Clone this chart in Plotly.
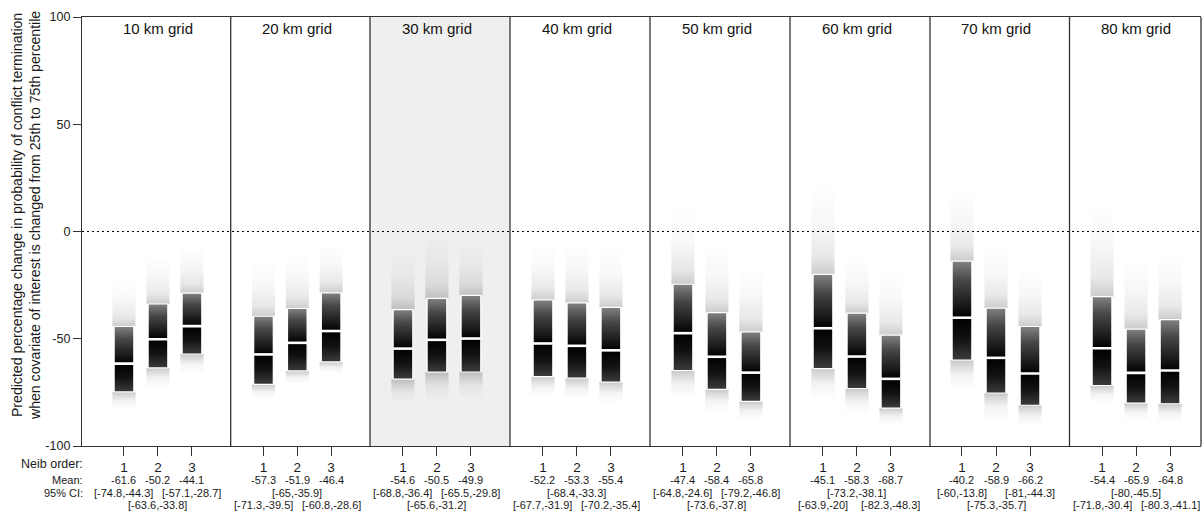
import plotly.graph_objects as go

# ---------------- data ----------------
panels = ["10 km grid", "20 km grid", "30 km grid", "40 km grid",
          "50 km grid", "60 km grid", "70 km grid", "80 km grid"]
neib_order = [1, 2, 3]

means = [
    [-61.6, -50.2, -44.1],
    [-57.3, -51.9, -46.4],
    [-54.6, -50.5, -49.9],
    [-52.2, -53.3, -55.4],
    [-47.4, -58.4, -65.8],
    [-45.1, -58.3, -68.7],
    [-40.2, -58.9, -66.2],
    [-54.4, -65.9, -64.8],
]
ci_low = [
    [-74.8, -63.6, -57.1],
    [-71.3, -65.0, -60.8],
    [-68.8, -65.6, -65.5],
    [-67.7, -68.4, -70.2],
    [-64.8, -73.6, -79.2],
    [-63.9, -73.2, -82.3],
    [-60.0, -75.3, -81.0],
    [-71.8, -80.0, -80.3],
]
ci_high = [
    [-44.3, -33.8, -28.7],
    [-39.5, -35.9, -28.6],
    [-36.4, -31.2, -29.8],
    [-31.9, -33.3, -35.4],
    [-24.6, -37.8, -46.8],
    [-20.0, -38.1, -48.3],
    [-13.8, -35.7, -44.3],
    [-30.4, -45.5, -41.1],
]
# approximate extent of the simulated-draw clouds
cloud_top = [
    [-22, -11, -6],
    [-14, -10, -5],
    [-8, 1, -4],
    [-6, -5, -8],
    [11, -6, -16],
    [23, -12, -19],
    [20, -7, -17],
    [13, -12, -10],
]
cloud_bottom = [
    [-83, -73, -66],
    [-78, -71, -66],
    [-80, -79, -78],
    [-77, -78, -80],
    [-78, -84, -88],
    [-78, -85, -90],
    [-74, -88, -91],
    [-80, -88, -89],
]
y_ticks = [-100, -50, 0, 50, 100]
highlight_panel = 2

# ---------------- layout geometry ----------------
W, H = 1202, 513
ML, MR, MT, MB = 82, 1, 17, 67
plot_w = W - ML - MR
plot_h = H - MT - MB
div_px = [82, 230.7, 370, 510, 650, 790, 930, 1069.5, 1201]
domains = [((div_px[k] - ML) / plot_w, (div_px[k + 1] - ML) / plot_w) for k in range(8)]
x_ranges = [[-0.235, 4.14], [0.03, 4.15], [0.03, 4.15], [0.03, 4.15],
            [0.03, 4.15], [0.03, 4.15], [0.06, 4.16], [0.044, 3.91]]


def ypaper(px):
    return (H - MB - px) / plot_h


FONT = "Liberation Sans, Arial, Helvetica, sans-serif"
BOX_HW = 0.29
CLOUD_HW = 0.34

fig = go.Figure()


def xname(k):
    return "x" if k == 0 else f"x{k + 1}"


for k in range(8):
    xa = xname(k)
    mx, my = [], []
    for j, xv in enumerate(neib_order):
        lo, hi, m = ci_low[k][j], ci_high[k][j], means[k][j]
        ct, cb = cloud_top[k][j], cloud_bottom[k][j]
        xl, xr = xv - CLOUD_HW, xv + CLOUD_HW
        # upper cloud
        fig.add_trace(go.Scatter(
            x=[xl, xr, xr, xl, xl], y=[hi, hi, ct, ct, hi],
            xaxis=xa, yaxis="y", mode="lines", fill="toself",
            line=dict(width=0, color="rgba(0,0,0,0)"),
            fillgradient=dict(type="vertical", colorscale=[
                [0, "rgba(0,0,0,0.20)"], [0.2, "rgba(0,0,0,0.09)"],
                [0.55, "rgba(0,0,0,0.03)"], [1, "rgba(0,0,0,0)"]]),
            hoverinfo="skip", showlegend=False))
        # lower cloud
        fig.add_trace(go.Scatter(
            x=[xl, xr, xr, xl, xl], y=[cb, cb, lo, lo, cb],
            xaxis=xa, yaxis="y", mode="lines", fill="toself",
            line=dict(width=0, color="rgba(0,0,0,0)"),
            fillgradient=dict(type="vertical", colorscale=[
                [0, "rgba(0,0,0,0)"], [0.5, "rgba(0,0,0,0.05)"],
                [0.85, "rgba(0,0,0,0.16)"], [1, "rgba(0,0,0,0.22)"]]),
            hoverinfo="skip", showlegend=False))
        # CI box
        p = (m - lo) / (hi - lo)
        bl, br = xv - BOX_HW, xv + BOX_HW
        fig.add_trace(go.Scatter(
            x=[bl, br, br, bl, bl], y=[lo, lo, hi, hi, lo],
            xaxis=xa, yaxis="y", mode="lines", fill="toself",
            line=dict(width=1.2, color="white"),
            fillgradient=dict(type="vertical", colorscale=[
                [0, "#3c3c3c"], [p * 0.5, "#121212"], [p, "#000000"],
                [p + (1 - p) * 0.25, "#1c1c1c"], [p + (1 - p) * 0.65, "#464646"],
                [1, "#828282"]]),
            hoverinfo="skip", showlegend=False))
        mx += [bl, br, None]
        my += [m, m, None]
    fig.add_trace(go.Scatter(x=mx, y=my, xaxis=xa, yaxis="y", mode="lines",
                             line=dict(width=2.6, color="white"),
                             hoverinfo="skip", showlegend=False))

layout = dict(
    width=W, height=H,
    margin=dict(l=ML, r=MR, t=MT, b=MB),
    paper_bgcolor="white", plot_bgcolor="white",
    font=dict(family=FONT, color="#1a1a1a", size=12),
    yaxis=dict(range=[-100, 100], domain=[0, 1], anchor="x",
               tickvals=y_ticks, ticktext=[str(v) for v in y_ticks],
               ticks="outside", ticklen=8, tickwidth=1.2, tickcolor="#333",
               showline=True, linecolor="#333", linewidth=1.3,
               showgrid=False, zeroline=False,
               tickfont=dict(size=12.5, family=FONT, color="#1a1a1a")),
)
for k in range(8):
    key = "xaxis" if k == 0 else f"xaxis{k + 1}"
    layout[key] = dict(domain=list(domains[k]), range=x_ranges[k], anchor="y",
                       tickvals=neib_order, ticktext=[str(v) for v in neib_order],
                       ticks="outside", ticklen=9, tickwidth=1.2, tickcolor="#333",
                       showline=True, mirror=True, linecolor="#333", linewidth=1.3,
                       showgrid=False, zeroline=False,
                       tickfont=dict(size=13.5, family=FONT, color="#1a1a1a"))
fig.update_layout(**layout)

shapes = []
# highlighted panel background
shapes.append(dict(type="rect", xref="paper", yref="paper",
                   x0=domains[highlight_panel][0], x1=domains[highlight_panel][1],
                   y0=0, y1=1, fillcolor="#efefef", line=dict(width=0), layer="below"))
# panel dividers
for k in range(1, 9):
    shapes.append(dict(type="line", xref="paper", yref="paper",
                       x0=domains[k - 1][1], x1=domains[k - 1][1], y0=0, y1=1,
                       line=dict(color="#333", width=1.3)))
# dotted zero line
shapes.append(dict(type="line", xref="paper", yref="y", x0=0, x1=1, y0=0, y1=0,
                   line=dict(color="black", width=1.2, dash="2px,3px")))
fig.update_layout(shapes=shapes)

ann = []
for k in range(8):
    xa = xname(k)
    ann.append(dict(text=panels[k], xref=xa, yref="paper", x=2, y=ypaper(28),
                    xanchor="center", yanchor="middle", showarrow=False,
                    font=dict(size=15, family=FONT, color="#111")))
    top_groups = [0, 2] if k % 2 == 0 else [1]
    for j, xv in enumerate(neib_order):
        ann.append(dict(text=f"{means[k][j]:g}", xref=xa, yref="paper", x=xv,
                        y=ypaper(480), xanchor="center", yanchor="middle",
                        showarrow=False, font=dict(size=11, family=FONT, color="#1a1a1a")))
        row_px = 492.5 if j in top_groups else 505.5
        ann.append(dict(text=f"[{ci_low[k][j]:g},{ci_high[k][j]:g}]", xref=xa,
                        yref="paper", x=xv, y=ypaper(row_px),
                        xanchor="center", yanchor="middle", showarrow=False,
                        font=dict(size=11, family=FONT, color="#1a1a1a")))

for txt, py, sz in [("Neib order:", 464, 12.5), ("Mean:", 480, 11), ("95% CI:", 492.5, 11)]:
    ann.append(dict(text=txt, xref="paper", yref="paper", x=(85 - ML) / plot_w, y=ypaper(py),
                    xanchor="right", yanchor="middle", showarrow=False,
                    font=dict(size=sz, family=FONT, color="#1a1a1a")))

ann.append(dict(
    text="Predicted percentage change in probability of conflict termination<br>"
         "when covariate of interest is changed from 25th to 75th percentile",
    xref="paper", yref="paper", x=(26 - ML) / plot_w, y=ypaper(216),
    xanchor="center", yanchor="middle", textangle=-90, showarrow=False,
    font=dict(size=14.1, family=FONT, color="#1a1a1a")))
fig.update_layout(annotations=ann)

fig.write_html("out.html", config={"displayModeBar": False},
               post_script="document.body.style.margin='0px';document.body.style.padding='0px';")
